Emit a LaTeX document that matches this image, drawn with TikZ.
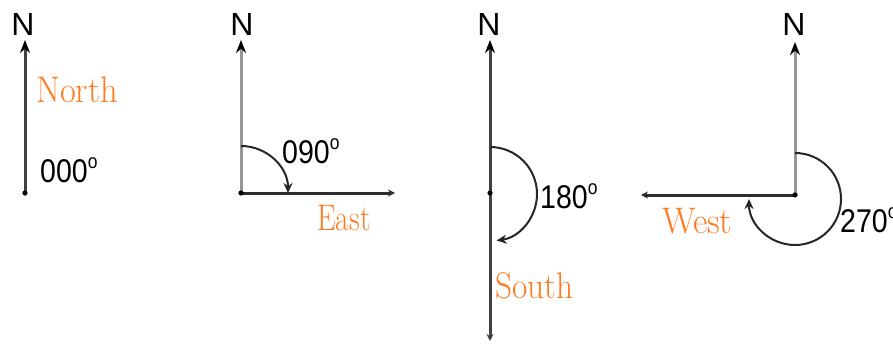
\documentclass[tikz,border=0pt]{standalone}
\usepackage{fontspec}
\usepackage{graphicx}
\usetikzlibrary{arrows.meta}
\newfontfamily\labsans{Liberation Sans}
\definecolor{dirorange}{RGB}{255,122,30}
\definecolor{darkline}{RGB}{65,65,65}
\definecolor{lightline}{RGB}{150,150,150}
\definecolor{hline}{RGB}{45,45,45}
\begin{document}
\begin{tikzpicture}[x=1pt,y=-1pt,
  nlab/.style={inner sep=0pt,anchor=base,font=\labsans\fontsize{32}{32}\selectfont},
  deglab/.style={inner sep=0pt,anchor=base west,font=\labsans\fontsize{31}{31}\selectfont},
  dirlab/.style={inner sep=0pt,anchor=base west,text=dirorange,font=\fontsize{37}{37}\selectfont},
  northray/.style={line width=3pt,-{Stealth[length=13pt,width=10pt,color=black]}},
  smalltip/.style={line width=3pt,draw=hline,-{Stealth[length=7pt,width=7pt]}},
  turnarc/.style={line width=2pt,draw=black!85,-{Stealth[length=10pt,width=9pt]}},
  dot/.style={fill=black}
]
\useasboundingbox (0,0) rectangle (893,343);
\newcommand{\dg}{\raisebox{0.42em}{\fontsize{19}{19}\selectfont o}}
\newcommand{\dgtext}[1]{\scalebox{0.92}[1.06]{#1\dg}}
\newcommand{\dirtext}[2]{\scalebox{#1}[1]{#2}}
% Panel 1
\coordinate (o1) at (25,193);
\coordinate (t1) at (25,40);
\draw[northray,draw=darkline] (o1) -- (t1);
\fill[dot] (o1) circle (2.6);
\node[nlab] (n1) at (23,35) {N};
\node[dirlab] (north) at (36,102) {\dirtext{0.93}{North}};
\node[deglab] (d1) at (40,182) {\dgtext{000}};
% Panel 2
\coordinate (o2) at (241,193);
\coordinate (t2) at (241,40);
\coordinate (e2) at (395,193);
\coordinate (a2) at (241,146);
\draw[northray,draw=lightline] (o2) -- (t2);
\draw[smalltip] (o2) -- (e2);
\fill[dot] (o2) circle (2.6);
\draw[turnarc] (a2) arc[start angle=-90,end angle=0,radius=47];
\node[nlab] (n2) at (242,35) {N};
\node[deglab] (d2) at (282,163) {\dgtext{090}};
\node[dirlab] (east) at (317,230) {\dirtext{0.8}{East}};
% Panel 3
\coordinate (o3) at (490,193);
\coordinate (t3) at (490,40);
\coordinate (b3) at (490,341);
\coordinate (a3) at (490,147);
\draw[line width=3pt,draw=darkline,{Stealth[length=7pt,width=7pt]}-{Stealth[length=13pt,width=10pt,color=black]}] (b3) -- (t3);
\fill[dot] (o3) circle (2.6);
\draw[turnarc] (a3) arc[start angle=-90,end angle=82,radius=47];
\node[nlab] (n3) at (489,35) {N};
\node[deglab] (d3) at (540,208) {\dgtext{180}};
\node[dirlab] (south) at (495,298) {\dirtext{0.9}{South}};
% Panel 4
\coordinate (o4) at (795,195);
\coordinate (t4) at (795,42);
\coordinate (w4) at (641,195);
\coordinate (a4) at (795,153);
\draw[northray,draw=lightline] (o4) -- (t4);
\draw[smalltip] (o4) -- (w4);
\fill[dot] (o4) circle (2.6);
\draw[turnarc] (a4) arc[start angle=-90,end angle=180,x radius=46,y radius=46];
\node[nlab] (n4) at (794,35) {N};
\node[deglab] (d4) at (840,232) {\dgtext{270}};
\node[dirlab] (west) at (662,233) {\dirtext{0.95}{West}};
\end{tikzpicture}
\end{document}
